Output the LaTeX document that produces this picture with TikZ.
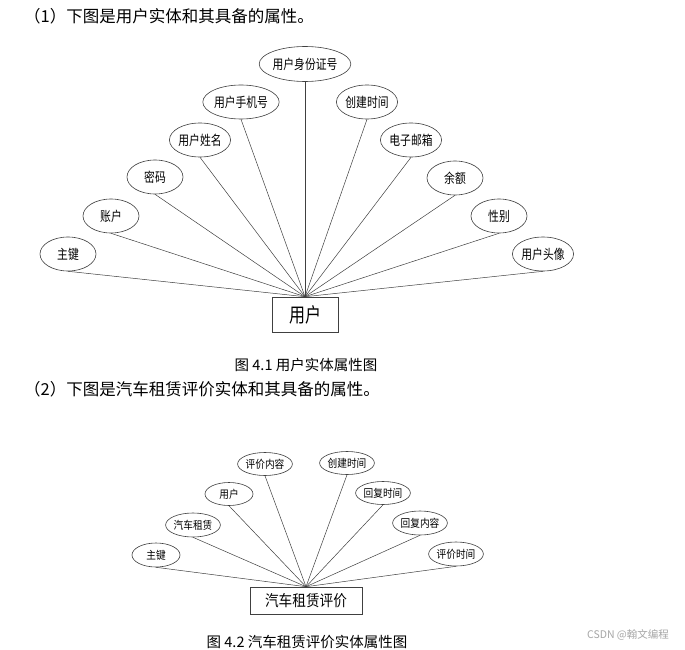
\documentclass[tikz,border=0pt]{standalone}
\usepackage{fontspec}
\usetikzlibrary{shapes.geometric}
\newfontfamily\cjk{Noto Sans CJK SC}
\newfontfamily\cjkn[FakeStretch=0.8]{Noto Sans CJK SC}
\newfontfamily\cjkm[FakeStretch=0.88]{Noto Sans CJK SC}
\begin{document}
\begin{tikzpicture}[x=1pt,y=-1pt,
  attr/.style={ellipse, draw=black!75, line width=0.6pt, inner sep=0pt,
    minimum width=56pt, minimum height=34pt, font=\cjkn\fontsize{13.5}{13.5}\selectfont},
  attrB/.style={ellipse, draw=black!75, line width=0.6pt, inner sep=0pt,
    minimum width=48pt, minimum height=24pt, font=\cjkm\fontsize{11}{11}\selectfont},
  ent/.style={rectangle, draw=black!75, line width=0.6pt, inner sep=0pt},
  link/.style={draw=black!75, line width=0.5pt},
  para/.style={anchor=west, inner sep=0pt, font=\cjk\fontsize{16.5}{16.5}\selectfont},
  capt/.style={inner sep=0pt, font=\cjk\fontsize{14.5}{14.5}\selectfont}]
\fill[white] (0,0) rectangle (685,650);
\useasboundingbox (0,0) rectangle (685,650);

% ---------- Diagram 1 ----------
\node[para] (t1) at (24,16) {（1）下图是用户实体和其具备的属性。};
\node[ent, minimum width=66pt, minimum height=35pt, font=\cjkn\fontsize{20}{20}\selectfont] (e1) at (305,314.5) {用户};

\node[attr] (k1) at (68,254) {主键};
\node[attr] (k2) at (111,216) {账户};
\node[attr] (k3) at (155,177) {密码};
\node[attr, minimum width=57pt] (k4) at (200,140) {用户姓名};
\node[attr, minimum width=67pt] (k5) at (241,102) {用户手机号};
\node[attr, minimum width=74pt, minimum height=35pt] (k6) at (305,64) {用户身份证号};
\node[attr] (k7) at (367,102) {创建时间};
\node[attr] (k8) at (411,140) {电子邮箱};
\node[attr] (k9) at (455,178) {余额};
\node[attr] (k10) at (499,216) {性别};
\node[attr] (k11) at (543,254) {用户头像};

\foreach \k in {k1,k2,k3,k4,k5,k6,k7,k8,k9,k10,k11}
  \draw[link] (\k.south) -- (e1.north);

\node[capt] (c1) at (306,365) {图 4.1 用户实体属性图};

% ---------- Diagram 2 ----------
\node[para] (t2) at (24,389) {（2）下图是汽车租赁评价实体和其具备的属性。};
\node[ent, minimum width=112pt, minimum height=27pt, font=\cjkm\fontsize{15.5}{15.5}\selectfont] (e2) at (306,600.5) {汽车租赁评价};

\node[attrB] (m1) at (156,555) {主键};
\node[attrB, minimum width=46pt] (m2) at (193,525) {汽车租赁};
\node[attrB, minimum height=23pt] (m3) at (229,494) {用户};
\node[attrB, minimum width=50pt, minimum height=23pt] (m4) at (265,464) {评价内容};
\node[attrB, minimum width=50pt, minimum height=23pt] (m5) at (347,463) {创建时间};
\node[attrB, minimum width=50pt, minimum height=23pt] (m6) at (383,493) {回复时间};
\node[attrB, minimum width=49pt] (m7) at (420,523) {回复内容};
\node[attrB] (m8) at (456,554) {评价时间};

\foreach \m in {m1,m2,m3,m4,m5,m6,m7,m8}
  \draw[link] (\m.south) -- (e2.north);

\node[capt] (c2) at (307,642) {图 4.2 汽车租赁评价实体属性图};

\node[inner sep=0pt, text=black!35, font=\cjk\fontsize{10.5}{10.5}\selectfont] (wm) at (628,635) {CSDN @翰文编程};
\end{tikzpicture}
\end{document}
